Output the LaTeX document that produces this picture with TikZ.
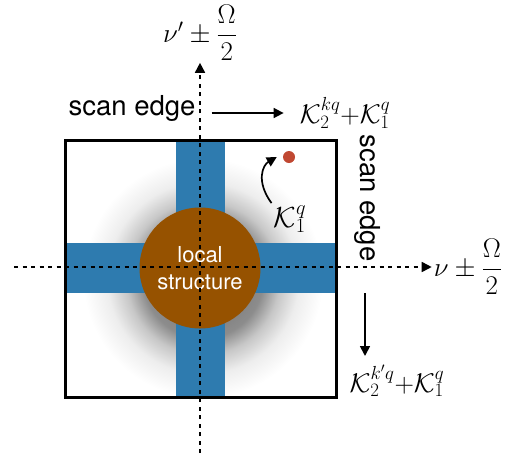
\RequirePackage{fix-cm}
\documentclass[tikz,border=0pt]{standalone}
\usepackage{fontspec}
\setsansfont{TeX Gyre Heros}
\usetikzlibrary{arrows.meta}

\definecolor{barblue}{RGB}{46,123,175}
\definecolor{localbrown}{RGB}{150,82,0}
\definecolor{dotred}{RGB}{192,72,50}

\pgfdeclareradialshading{glow}{\pgfpoint{0bp}{0bp}}{%
  color(0bp)=(black!60); color(12.5bp)=(black!45); color(16bp)=(black!22);
  color(20bp)=(black!7); color(25bp)=(white); color(50bp)=(white)}

\tikzset{
  axis/.style={dash pattern=on 4pt off 4.5pt, line width=1.7pt, -{Triangle[length=10pt,width=10pt]}},
  arr/.style={line width=1.7pt, -{Triangle[length=10pt,width=10pt]}},
  scanlabel/.style={font=\sffamily\fontsize{27.5}{32}\selectfont, inner sep=2pt},
  mathlabel/.style={font=\fontsize{27}{31}\selectfont, inner sep=2pt},
  klabel/.style={font=\fontsize{27}{31}\selectfont, inner sep=2pt}
}

\begin{document}
\begin{tikzpicture}[x=1pt, y=-1pt]
    \useasboundingbox (0,0) rectangle (510,453);

    % Shadow of the local structure
    \shade[shading=glow] (203,278) circle (120);

    % Bars
    \fill[barblue] (176,140) rectangle (225,397);
    \fill[barblue] (65,243) rectangle (337,293);

    % Square
    \draw[line width=3pt] (65,140) rectangle (336,397);

    % Local structure
    \node[circle, fill=localbrown, minimum size=121pt, inner sep=0pt,
          align=center, text=white, font=\sffamily\fontsize{22}{27}\selectfont]
          (local) at (200,268) {local\\structure};

    % Axes
    \node[mathlabel] (nu) at (468,267) {$\nu\pm\displaystyle\frac{\Omega}{2}$};
    \node[mathlabel] (nup) at (200,33) {$\nu'\pm\displaystyle\frac{\Omega}{2}$};
    \coordinate (hleft) at (14,267);
    \coordinate (vbot) at (200,453);
    \draw[axis] (hleft) -- (nu.west);
    \draw[axis] (vbot) -- (nup.south);

    % Scan edges
    \node[scanlabel] (scantop) at (132,108) {scan edge};
    \node[scanlabel, rotate=-90] (scanright) at (368,198) {scan edge};
    \node[klabel] (ktop) at (345,113) {$\mathcal{K}_2^{kq}{+}\mathcal{K}_1^q$};
    \node[klabel] (kbot) at (397,381) {$\mathcal{K}_2^{k'q}{+}\mathcal{K}_1^q$};
    \draw[arr, shorten <=14pt, shorten >=14pt] (scantop.east |- ktop.west) -- (ktop.west);
    \coordinate (dtop) at (365,293);
    \draw[arr] (dtop) -- (365,356);

    % Point K1
    \node[circle, fill=dotred, minimum size=12pt, inner sep=0pt] (dot) at (289,157) {};
    \node[font=\fontsize{29}{33}\selectfont, inner sep=2pt] (kone) at (290,219) {$\mathcal{K}_1^q$};
    \draw[arr] (kone.north west) .. controls +(-16,-22) and +(-14,8) .. ([xshift=-6pt]dot.west);
\end{tikzpicture}
\end{document}
